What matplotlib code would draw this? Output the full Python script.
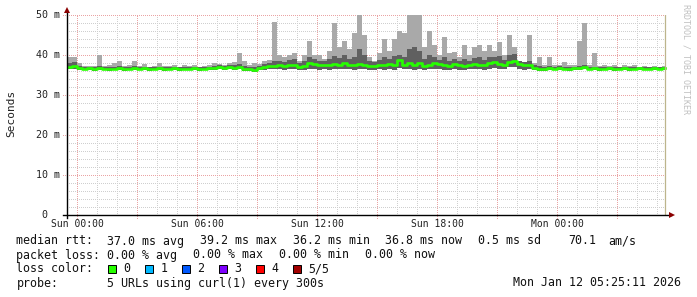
import numpy as np
import matplotlib
matplotlib.use("Agg")
import matplotlib.pyplot as plt
from matplotlib.patches import Rectangle, Polygon

# ---------------- data (15-minute bins, hours relative to Sun 00:00) ----------------
bin_start_h = -0.5
bin_step_h = 0.25
data_end_h = 29.4

smoke_hi = [39.5, 39.6, 38.0, 37.3, 37.2, 37.3, 40.0, 37.2, 37.5, 38.0,
            38.6, 37.2, 37.5, 38.5, 37.2, 37.8, 37.0, 37.2, 38.0, 37.2,
            37.3, 37.6, 37.0, 37.5, 37.2, 37.5, 37.0, 37.2, 37.4, 38.0,
            37.8, 37.6, 38.0, 38.3, 40.5, 38.5, 37.6, 38.0, 37.8, 38.6,
            38.8, 48.3, 40.0, 39.5, 40.0, 40.5, 38.6, 40.0, 43.6, 40.0,
            40.0, 39.0, 41.0, 48.0, 42.0, 43.5, 41.5, 45.6, 52.0, 45.0,
            39.5, 38.6, 40.6, 44.0, 41.0, 44.0, 46.0, 45.5, 52.0, 52.0,
            52.0, 42.0, 46.0, 42.5, 40.0, 44.5, 40.5, 40.8, 39.5, 42.5,
            40.0, 42.0, 42.5, 41.0, 42.5, 41.0, 43.3, 40.0, 45.0, 42.0,
            38.5, 38.3, 45.0, 38.0, 39.6, 37.6, 39.5, 37.5, 37.6, 38.2,
            37.4, 37.5, 43.4, 48.0, 37.4, 40.5, 37.2, 37.6, 37.3, 37.5,
            37.1, 37.5, 37.2, 37.4, 37.1, 37.3, 37.1, 37.2, 37.1, 37.2]

smoke_dark = [38.0, 38.3, 37.3, 37.0, 37.0, 36.9, 37.2, 37.0, 36.9, 37.0,
              37.2, 36.9, 37.0, 37.3, 37.0, 37.1, 36.9, 37.0, 37.1, 36.9,
              37.0, 37.1, 36.9, 37.0, 37.0, 37.1, 36.9, 37.0, 37.1, 37.3,
              37.4, 37.3, 37.5, 37.4, 37.8, 37.2, 37.0, 37.0, 37.3, 37.8,
              38.0, 38.6, 38.6, 38.2, 38.8, 39.0, 38.0, 38.6, 39.5, 39.0,
              38.6, 38.5, 39.0, 39.8, 39.2, 40.0, 39.0, 39.5, 41.5, 40.0,
              38.5, 38.2, 38.8, 39.5, 39.0, 39.8, 40.0, 39.5, 41.5, 42.0,
              41.0, 39.0, 40.0, 39.5, 38.8, 39.5, 38.6, 39.0, 38.5, 39.0,
              38.6, 39.2, 39.5, 38.8, 39.4, 39.6, 39.8, 38.8, 40.0, 40.2,
              38.6, 38.2, 38.5, 37.4, 37.2, 37.0, 37.2, 37.0, 37.2, 37.1,
              36.9, 37.1, 37.3, 37.4, 37.0, 37.1, 36.9, 37.0, 37.1, 36.9,
              37.0, 37.1, 36.9, 37.0, 37.1, 37.0, 37.0, 37.1, 37.0, 37.1]

median = [37.0, 37.3, 36.8, 36.6, 36.7, 36.5, 36.8, 36.6, 36.5, 36.6,
          36.8, 36.5, 36.6, 36.8, 36.6, 36.7, 36.5, 36.6, 36.7, 36.5,
          36.6, 36.7, 36.5, 36.6, 36.6, 36.7, 36.5, 36.6, 36.7, 36.8,
          36.9, 36.8, 37.0, 36.8, 37.0, 36.6, 36.4, 36.3, 36.8, 37.0,
          37.2, 37.3, 37.5, 37.2, 37.4, 37.6, 37.1, 37.3, 38.0, 37.8,
          37.4, 37.6, 37.4, 37.8, 37.5, 38.0, 37.6, 37.4, 37.8, 37.6,
          37.3, 37.2, 37.6, 37.5, 37.7, 37.4, 38.8, 37.6, 38.0, 37.5,
          37.9, 37.2, 37.6, 38.0, 37.8, 37.5, 37.3, 37.7, 37.4, 37.2,
          37.5, 37.8, 37.6, 37.5, 37.9, 38.2, 37.8, 37.6, 38.3, 38.6,
          37.8, 37.4, 37.6, 36.8, 36.6, 36.5, 36.7, 36.6, 36.8, 36.6,
          36.5, 36.7, 36.7, 36.9, 36.6, 36.7, 36.5, 36.6, 36.7, 36.5,
          36.6, 36.7, 36.5, 36.6, 36.7, 36.6, 36.6, 36.7, 36.6, 36.7]

smoke_lo = [36.4, 36.6, 36.3, 36.2, 36.3, 36.1, 36.3, 36.2, 36.1, 36.2,
            36.3, 36.1, 36.2, 36.3, 36.2, 36.3, 36.1, 36.2, 36.3, 36.1,
            36.2, 36.3, 36.1, 36.2, 36.2, 36.3, 36.1, 36.2, 36.3, 36.3,
            36.4, 36.3, 36.4, 36.3, 36.4, 36.1, 35.9, 35.8, 36.2, 36.3,
            36.4, 36.4, 36.5, 36.2, 36.4, 36.5, 36.2, 36.3, 36.6, 36.5,
            36.3, 36.5, 36.3, 36.5, 36.4, 36.6, 36.4, 36.3, 36.5, 36.4,
            36.3, 36.2, 36.4, 36.3, 36.5, 36.3, 36.8, 36.4, 36.6, 36.3,
            36.6, 36.2, 36.4, 36.6, 36.5, 36.3, 36.2, 36.5, 36.3, 36.2,
            36.4, 36.5, 36.4, 36.3, 36.6, 36.8, 36.5, 36.4, 36.9, 37.0,
            36.6, 36.3, 36.4, 36.3, 36.1, 36.1, 36.2, 36.2, 36.3, 36.2,
            36.1, 36.2, 36.3, 36.4, 36.2, 36.2, 36.1, 36.2, 36.3, 36.1,
            36.2, 36.3, 36.1, 36.2, 36.3, 36.2, 36.2, 36.3, 36.2, 36.3]

x_tick_hours = [0, 6, 12, 18, 24]
x_tick_labels = ["Sun 00:00", "Sun 06:00", "Sun 12:00", "Sun 18:00", "Mon 00:00"]
y_tick_values = [0, 10, 20, 30, 40, 50]
y_tick_labels = [" 0", "10 m", "20 m", "30 m", "40 m", "50 m"]

stats_line1 = [("median rtt:", 16.5), ("37.0 ms avg", 107.3), ("39.2 ms max", 200.0),
               ("36.2 ms min", 292.7), ("36.8 ms now", 385.0), ("0.5 ms sd", 478.3),
               ("70.1", 568.0), ("am/s", 608.0)]
stats_line2 = [("packet loss:", 16.5), ("0.00 % avg", 107.3), ("0.00 % max", 193.3),
               ("0.00 % min", 279.3), ("0.00 % now", 365.0)]
loss_labels = ["0", "1", "2", "3", "4", "5/5"]
loss_colors = ["#26ff00", "#00b8ff", "#0059ff", "#7e00ff", "#ff0000", "#a10000"]
probe_text = "5 URLs using curl(1) every 300s"
date_text = "Mon Jan 12 05:25:11 2026"

# ---------------- figure ----------------
W, H = 697, 297
fig = plt.figure(figsize=(W / 100, H / 100), dpi=100)
fig.patch.set_facecolor("white")

def fx(px):
    return px / W

def fy(py):
    return 1 - py / H

L, R, T, B = 67, 667, 15, 215
ax = fig.add_axes([fx(L), fy(B), (R - L) / W, (B - T) / H])
ax.set_xlim(-0.5, 29.5)
ax.set_ylim(0, 50)
ax.axis("off")

mono = "DejaVu Sans Mono"
px_per_h = (R - L) / 30.0
px_per_ms = (B - T) / 50.0
dot = (0, (1, 2))
minor_c = "#cfcfcf"
major_c = "#eaa4a4"

def gline(xs, ys, c, clip=True):
    ln, = ax.plot(xs, ys, color=c, lw=0.72, ls=dot, zorder=1, clip_on=clip,
                  antialiased=False)
    return ln

# grid
for v in range(2, 50, 2):
    if v % 10:
        gline([-0.5, 29.5], [v, v], minor_c)
for h in range(0, 30):
    if h % 3:
        gline([h, h], [0, 50], minor_c)
for v in range(10, 51, 10):
    gline([-0.5 - 4 / px_per_h, 29.5], [v, v], major_c, clip=False)
for h in range(0, 30, 3):
    gline([h, h], [-3 / px_per_ms, 50], major_c, clip=False)

# data
n = len(median)
t = bin_start_h + bin_step_h * np.arange(n)
te = np.append(t, data_end_h)

def ext(a):
    a = np.asarray(a, dtype=float)
    return np.append(a, a[-1])

ax.fill_between(te, ext(smoke_lo), ext(smoke_hi), step="post", color="#a9a9a9",
                lw=0, zorder=2)
ax.fill_between(te, ext(smoke_lo), ext(smoke_dark), step="post", color="#606060",
                lw=0, zorder=3)
ax.step(te, ext(median), where="post", color="#26ff00", lw=1.9, zorder=4)

# right edge marker
ax.plot([data_end_h, data_end_h], [0, 50], color="#bdb58c", lw=0.9, zorder=5)

# axis lines
ax.plot([-0.5 - 4 / px_per_h, 29.5 + 4 / px_per_h], [0, 0], color="black", lw=1.0,
        zorder=6, clip_on=False)
ax.plot([-0.5, -0.5], [-3 / px_per_ms, 50 + 3 / px_per_ms], color="black", lw=1.0,
        zorder=6, clip_on=False)

# arrows
def tri(pts, c="#8b0000"):
    fig.patches.append(Polygon([(fx(a), fy(b)) for a, b in pts], closed=True,
                               transform=fig.transFigure, color=c, lw=0))
tri([(64, 13), (70, 13), (67, 7)])
tri([(669, 212), (669, 218), (675, 215)])

# tick labels
for v, lab in zip(y_tick_values, y_tick_labels):
    fig.text(fx(36), fy(B - v * px_per_ms), lab, family=mono, fontsize=7.2,
             ha="left", va="center", color="#222222")
for h, lab in zip(x_tick_hours, x_tick_labels):
    fig.text(fx(L + (h + 0.5) * px_per_h), fy(224), lab, family=mono, fontsize=7.0,
             ha="center", va="center", color="#222222")

fig.text(fx(11), fy(113.5), "Seconds", family=mono, fontsize=8.0, rotation=90,
         ha="center", va="center", color="#222222")
fig.text(fx(686), fy(4), "RRDTOOL / TOBI OETIKER", family=mono, fontsize=6.0,
         rotation=270, ha="center", va="top", color="#c0c0c0")

# legend / stats
fs = 8.4
for s, x in stats_line1:
    fig.text(fx(x), fy(241), s, family=mono, fontsize=fs, ha="left", va="center",
             color="#111111")
for s, x in stats_line2:
    fig.text(fx(x), fy(255), s, family=mono, fontsize=fs, ha="left", va="center",
             color="#111111")
fig.text(fx(16.5), fy(269), "loss color:", family=mono, fontsize=fs, ha="left",
         va="center", color="#111111")
box_x0 = 108
box_dx = 37
for k, (lab, c) in enumerate(zip(loss_labels, loss_colors)):
    bx = box_x0 + k * box_dx
    fig.patches.append(Rectangle((fx(bx), fy(273)), 8 / W, 8 / H,
                                 transform=fig.transFigure, facecolor=c,
                                 edgecolor="black", lw=0.7))
    fig.text(fx(bx + 15.5), fy(269), lab, family=mono, fontsize=fs, ha="left",
             va="center", color="#111111")
fig.text(fx(16.5), fy(283), "probe:", family=mono, fontsize=fs, ha="left",
         va="center", color="#111111")
fig.text(fx(107.3), fy(283), probe_text, family=mono, fontsize=fs, ha="left",
         va="center", color="#111111")
fig.text(fx(681), fy(283), date_text, family=mono, fontsize=fs, ha="right",
         va="center", color="#111111")

fig.savefig("out.png", dpi=100, facecolor="white")
